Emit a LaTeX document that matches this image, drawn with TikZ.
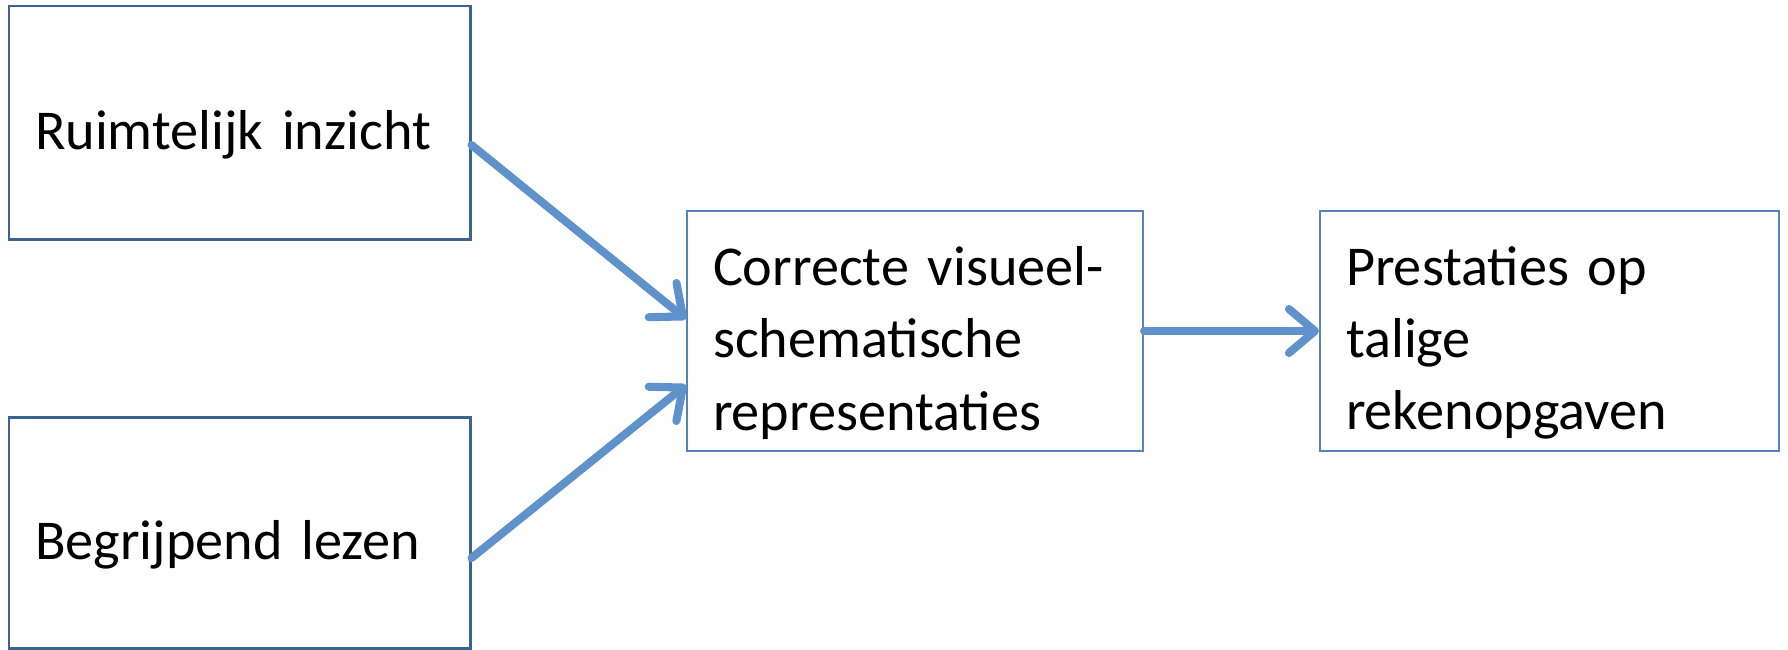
\documentclass[tikz,border=0pt]{standalone}
\usepackage{fontspec}
\setmainfont{Carlito}
\usetikzlibrary{arrows.meta}
\definecolor{darkframe}{HTML}{3A6391}
\definecolor{lightframe}{HTML}{5583BD}
\definecolor{arrowblue}{HTML}{5F92CA}
\begin{document}
\begin{tikzpicture}[
    boxtext/.style={align=left, inner xsep=0.26cm, text height=0.63cm,
      font=\fontsize{16}{20.5}\selectfont},
    inbox/.style={boxtext, draw=darkframe, line width=0.85pt,
      text width=4.09cm},
    outbox/.style={boxtext, draw=lightframe, line width=0.6pt,
      text width=4.07cm}]
  \useasboundingbox (0,0) rectangle (17.88,-6.49);
  \begin{scope}
    \node [inbox, minimum height=2.33cm] (ruimte) at (2.395,-1.225)
    {Ruimtelijk inzicht}; \node [inbox, minimum height=2.31cm]
    (lezen) at (2.395,-5.325) {Begrijpend lezen};
    \node [outbox, minimum height=2.32cm, text width=4.04cm] (repr)
    at (9.15,-3.31) {Correcte visueel-\\schematische\\representaties};
    \node [outbox, minimum height=2.32cm] (prest) at (15.495,-3.31)
    {Prestaties op\\talige\\rekenopgaven};
  \end{scope}
  \begin{scope}[-{Straight Barb[length=2.6mm, width=4.4mm, round]},
    arrowblue, line width=2.3pt, line cap=round]
    \draw ([yshift=-0.225cm]ruimte.east) -- ([yshift=0.12cm]repr.west);
    \draw ([yshift=-0.255cm]lezen.east) -- ([yshift=-0.54cm]repr.west);
    \draw (repr.east) -- (prest.west);
  \end{scope}
\end{tikzpicture}
\end{document}
